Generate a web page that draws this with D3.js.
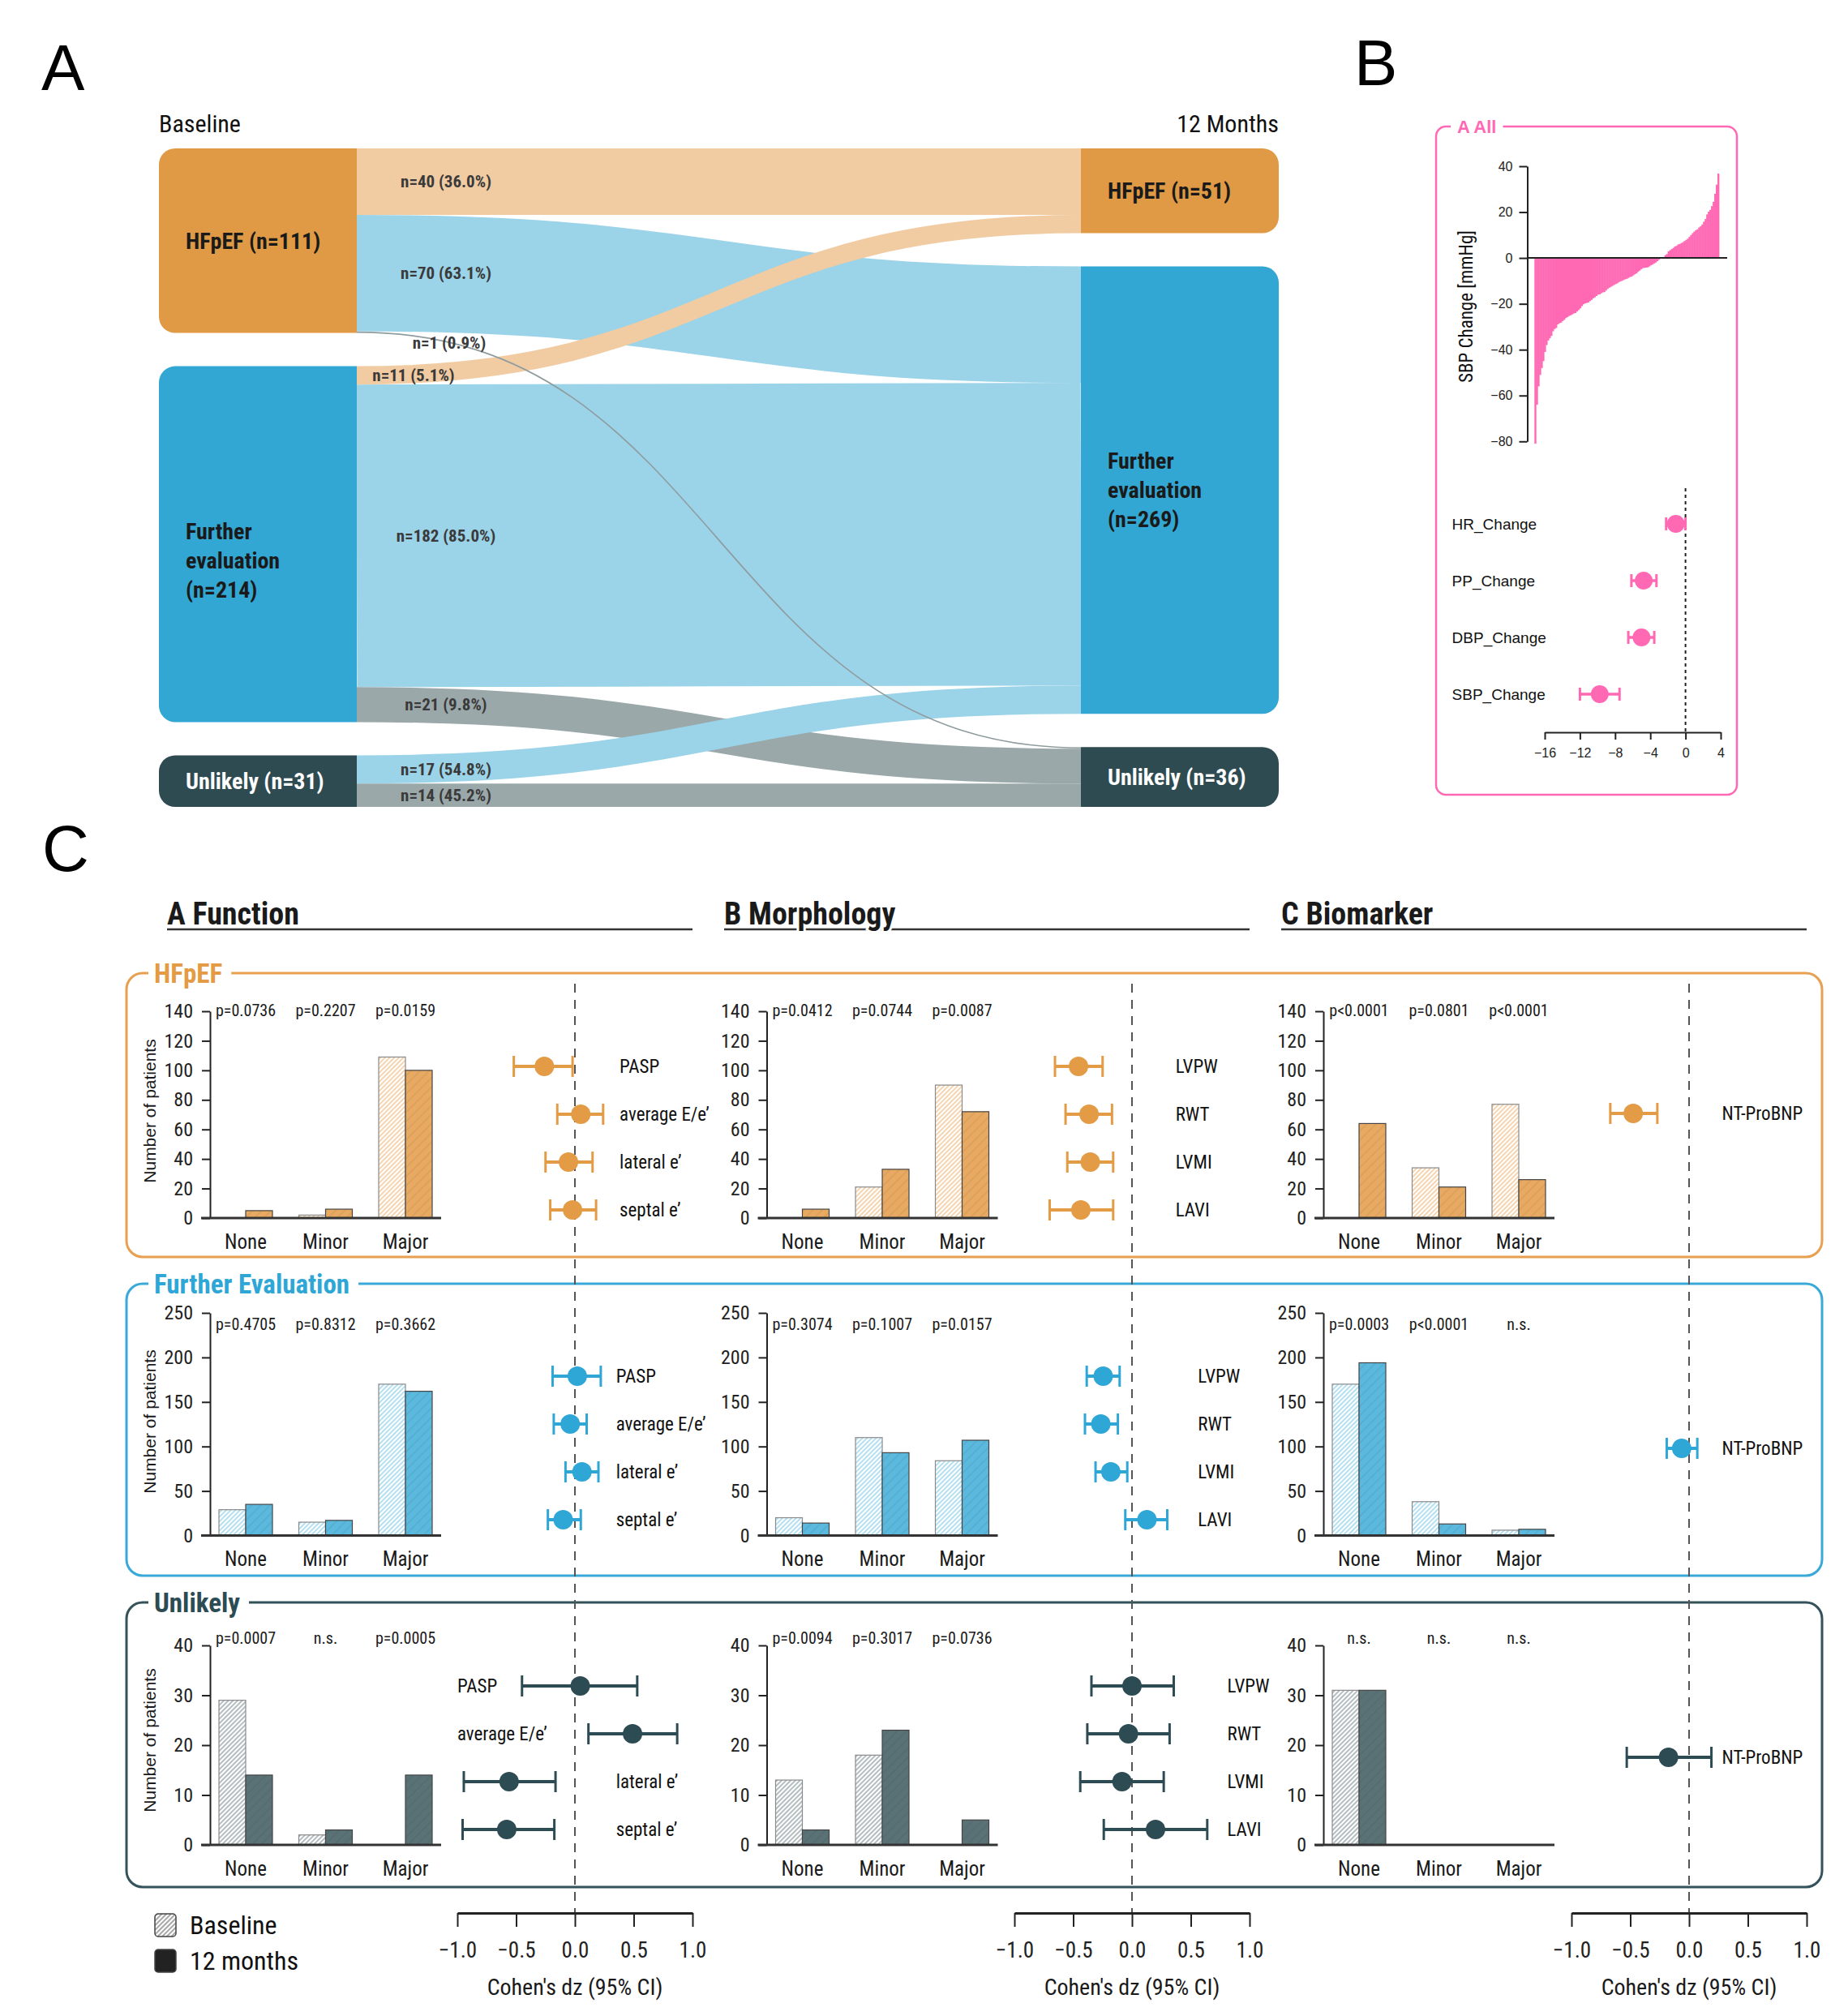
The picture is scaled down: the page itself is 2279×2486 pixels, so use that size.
<!DOCTYPE html>
<html>
<head>
<meta charset="utf-8">
<script src="https://cdn.jsdelivr.net/npm/d3@7"></script>
<style>
  body { margin: 0; background: #fff; }
  svg { display: block; }
</style>
</head>
<body>
<svg id="fig" width="2279" height="2486"></svg>
<script>
// ---------- data: panel A (sankey) ----------
const groups = ["HFpEF", "Further evaluation", "Unlikely"];
const baselineCounts = [111, 214, 31];
const monthCounts = [51, 269, 36];
const flowSource = [0, 0, 0, 1, 1, 1, 2, 2];
const flowTarget = [0, 1, 2, 0, 1, 2, 1, 2];
const flowValue = [40, 70, 1, 11, 182, 21, 17, 14];
const flowLabel = ["n=40 (36.0%)", "n=70 (63.1%)", "n=1 (0.9%)", "n=11 (5.1%)",
  "n=182 (85.0%)", "n=21 (9.8%)", "n=17 (54.8%)", "n=14 (45.2%)"];

// ---------- data: panel B ----------
const sbpChange = [-81, -64, -56, -51, -48, -45, -41, -38, -36, -35, -34, -32, -31, -30.5, -29, -28.5,
  -28.2, -27.5, -27, -26.2, -25.8, -25.3, -25, -24.6, -24.2, -24, -23.3, -22.7, -22, -21, -20.2, -19.8,
  -19.6, -19.4, -18.8, -18.3, -17.6, -17.2, -16.6, -16, -15.9, -15.4, -15, -14.9, -14.2, -13.5, -13,
  -12.6, -12.2, -11.8, -11.4, -11.1, -10.6, -10.2, -10, -9.6, -9.3, -9.1, -8.7, -8.3, -8.1, -7.6, -7.1,
  -6.7, -6, -5.5, -4.9, -4.4, -4.3, -4.2, -4.1, -3.7, -3.2, -2.9, -2.4, -2, -1.4, -0.8, 0, 0, 0, 1.2,
  1.7, 2.9, 3.4, 3.9, 4.4, 5, 5.3, 5.9, 6.1, 6.5, 6.9, 7.4, 7.9, 8.4, 9.2, 10, 10.8, 11.5, 12.1, 12.5,
  13.3, 13.8, 14.6, 15.8, 17, 19, 20.2, 21, 22.6, 24.5, 28, 32, 36.8];
const bpVars = ["HR_Change", "PP_Change", "DBP_Change", "SBP_Change"];
const bpEst = [-1.1, -4.75, -5.0, -9.75];
const bpLo = [-2.2, -6.15, -6.5, -12.0];
const bpHi = [0.0, -3.3, -3.55, -7.5];
const bpTicks = [-16, -12, -8, -4, 0, 4];
const sbpTicks = [-80, -60, -40, -20, 0, 20, 40];

// ---------- data: panel C ----------
const columnTitles = ["A Function", "B Morphology", "C Biomarker"];
const rowNames = ["HFpEF", "Further Evaluation", "Unlikely"];
const severity = ["None", "Minor", "Major"];
const timepoints = ["Baseline", "12 months"];
const params = [["PASP", "average E/e\u2019", "lateral e\u2019", "septal e\u2019"],
  ["LVPW", "RWT", "LVMI", "LAVI"], ["NT-ProBNP"]];
const yMax = [140, 250, 40];
const yStep = [20, 50, 10];
const dzTicks = [-1, -0.5, 0, 0.5, 1];

const hfpefBaseline = [[0, 2, 109], [0, 21, 90], [0, 34, 77]];
const hfpef12m = [[5, 6, 100], [6, 33, 72], [64, 21, 26]];
const hfpefP = [["p=0.0736", "p=0.2207", "p=0.0159"], ["p=0.0412", "p=0.0744", "p=0.0087"], ["p<0.0001", "p=0.0801", "p<0.0001"]];
const hfpefDz = [[-0.26, 0.05, -0.055, -0.02], [-0.455, -0.365, -0.355, -0.435], [-0.475]];
const hfpefLo = [[-0.52, -0.15, -0.25, -0.21], [-0.655, -0.565, -0.55, -0.70], [-0.67]];
const hfpefHi = [[-0.02, 0.24, 0.15, 0.18], [-0.25, -0.17, -0.16, -0.16], [-0.27]];

const furtherBaseline = [[29, 15, 170], [20, 110, 84], [170, 38, 6]];
const further12m = [[35, 17, 162], [14, 93, 107], [194, 13, 7]];
const furtherP = [["p=0.4705", "p=0.8312", "p=0.3662"], ["p=0.3074", "p=0.1007", "p=0.0157"], ["p=0.0003", "p<0.0001", "n.s."]];
const furtherDz = [[0.02, -0.04, 0.06, -0.10], [-0.245, -0.265, -0.18, 0.127], [-0.063]];
const furtherLo = [[-0.19, -0.18, -0.08, -0.23], [-0.385, -0.40, -0.31, -0.057], [-0.19]];
const furtherHi = [[0.22, 0.10, 0.20, 0.05], [-0.105, -0.12, -0.04, 0.30], [0.07]];

const unlikelyBaseline = [[29, 2, 0], [13, 18, 0], [31, 0, 0]];
const unlikely12m = [[14, 3, 14], [3, 23, 5], [31, 0, 0]];
const unlikelyP = [["p=0.0007", "n.s.", "p=0.0005"], ["p=0.0094", "p=0.3017", "p=0.0736"], ["n.s.", "n.s.", "n.s."]];
const unlikelyDz = [[0.045, 0.49, -0.56, -0.58], [0.0, -0.03, -0.085, 0.2], [-0.175]];
const unlikelyLo = [[-0.45, 0.115, -0.945, -0.955], [-0.345, -0.38, -0.44, -0.24], [-0.53]];
const unlikelyHi = [[0.53, 0.87, -0.165, -0.175], [0.355, 0.32, 0.27, 0.64], [0.19]];

// ---------- style / layout ----------
const NARROW = "'Liberation Sans Narrow', 'Arial Narrow', 'Roboto Condensed', 'DejaVu Sans Condensed', sans-serif";
const SANS = "'Liberation Sans', Arial, Helvetica, sans-serif";
const PINK = "#ff69b4";
const nodeColor = ["#e09a45", "#33a7d3", "#2f4b52"];
const nodeText = ["#1a1a1a", "#1a1a1a", "#ffffff"];
const linkColor = ["#f1cba2", "#9bd3e9", "#9aa8aa"];
const rowColor = ["#e39b45", "#2ea6d6", "#2d4b52"];
const boxColor = ["#e8a050", "#38a9d8", "#34525a"];
const bar12Color = ["#e8aa62", "#5bb9de", "#5a7276"];
const hatchColor = ["#f0bf86", "#8ccfe9", "#8b9a9d"];

const rowData = [
  { base: hfpefBaseline, m12: hfpef12m, p: hfpefP, dz: hfpefDz, lo: hfpefLo, hi: hfpefHi },
  { base: furtherBaseline, m12: further12m, p: furtherP, dz: furtherDz, lo: furtherLo, hi: furtherHi },
  { base: unlikelyBaseline, m12: unlikely12m, p: unlikelyP, dz: unlikelyDz, lo: unlikelyLo, hi: unlikelyHi }
];
// pixel layout of each row box
const rowBox = [
  { top: 1200, bottom: 1550, y0: 1502, yTop: 1247, pDy: 46, fDy: 115, ntDy: 173 },
  { top: 1583, bottom: 1943, y0: 1893.5, yTop: 1619, pDy: 50, fDy: 114, ntDy: 203 },
  { top: 1976, bottom: 2327, y0: 2275, yTop: 2029, pDy: 44, fDy: 103, ntDy: 191 }
];
// where the forest labels sit, in Cohen's dz units
const labelDz = [
  [[0.38, 0.38, 0.38, 0.38], [0.37, 0.37, 0.37, 0.37], [0.28]],
  [[0.35, 0.35, 0.35, 0.35], [0.56, 0.56, 0.56, 0.56], [0.28]],
  [[-1.0, -1.0, 0.35, 0.35], [0.81, 0.81, 0.81, 0.81], [0.28]]
];

const svg = d3.select("#fig").attr("font-family", NARROW);
const defs = svg.append("defs");

function hatch(id, bg, line, size, width) {
  const p = defs.append("pattern").attr("id", id)
    .attr("patternUnits", "userSpaceOnUse").attr("width", size).attr("height", size)
    .attr("patternTransform", "rotate(45)");
  p.append("rect").attr("width", size).attr("height", size).attr("fill", bg);
  p.append("line").attr("x1", size / 2).attr("x2", size / 2).attr("y1", 0).attr("y2", size)
    .attr("stroke", line).attr("stroke-width", width);
}
rowColor.forEach((c, i) => {
  hatch("hb" + i, "#fff", hatchColor[i], 4, 1.3);
  hatch("hm" + i, bar12Color[i], "rgba(0,0,0,0.07)", 8, 1.5);
});
hatch("hleg", "#fff", "#777", 4, 1.3);

// panel letters
[["A", 51, 111], ["B", 1670, 105], ["C", 52, 1074]].forEach(([t, x, y]) => {
  svg.append("text").attr("x", x).attr("y", y).attr("font-family", SANS)
    .attr("font-size", 80).attr("fill", "#000").text(t);
});

// ---------- panel A: sankey ----------
function drawSankey() {
  const g = svg.append("g");
  const top = 183, bottom = 995, gap = 41;
  const ky = (bottom - top - 2 * gap) / d3.sum(baselineCounts);
  const colL = [196, 440], colR = [1333, 1577];
  const stack = vals => { let y = top; return vals.map(v => { const n = { y0: y, y1: y + v * ky }; y = n.y1 + gap; return n; }); };
  const left = stack(baselineCounts), right = stack(monthCounts);

  const links = flowValue.map((v, i) => ({ v, s: flowSource[i], t: flowTarget[i], label: flowLabel[i], i }));
  const sOff = left.map(n => n.y0), tOff = right.map(n => n.y0);
  links.forEach(l => { l.sy0 = sOff[l.s]; sOff[l.s] += l.v * ky; l.sy1 = sOff[l.s]; });
  links.slice().sort((a, b) => a.t - b.t || a.s - b.s)
    .forEach(l => { l.ty0 = tOff[l.t]; tOff[l.t] += l.v * ky; l.ty1 = tOff[l.t]; });

  const link = d3.linkHorizontal();
  g.selectAll(".lk").data(links.slice().sort((a, b) => b.v - a.v)).enter().append("path")
    .attr("d", l => link({ source: [colL[1], (l.sy0 + l.sy1) / 2], target: [colR[0], (l.ty0 + l.ty1) / 2] }))
    .attr("fill", "none")
    .attr("stroke", l => l.v < 2 ? "#8f9c9e" : linkColor[l.t])
    .attr("stroke-width", l => l.v < 2 ? 1.6 : l.v * ky);

  function nodePath(x0, x1, y0, y1, side) {
    const r = Math.min(20, (y1 - y0) / 2);
    return side === "left"
      ? `M${x1},${y0}H${x0 + r}A${r},${r} 0 0 0 ${x0},${y0 + r}V${y1 - r}A${r},${r} 0 0 0 ${x0 + r},${y1}H${x1}Z`
      : `M${x0},${y0}H${x1 - r}A${r},${r} 0 0 1 ${x1},${y0 + r}V${y1 - r}A${r},${r} 0 0 1 ${x1 - r},${y1}H${x0}Z`;
  }
  const leftShift = [0, 20, 0];
  [[left, colL, "left", baselineCounts], [right, colR, "right", monthCounts]].forEach(([nodes, col, side, counts]) => {
    nodes.forEach((n, i) => {
      g.append("path").attr("d", nodePath(col[0], col[1], n.y0, n.y1, side)).attr("fill", nodeColor[i]);
      const words = groups[i].split(" ");
      const lines = words.length > 1 ? [...words, `(n=${counts[i]})`] : [`${groups[i]} (n=${counts[i]})`];
      const cy = (n.y0 + n.y1) / 2 + (side === "left" ? leftShift[i] : 0);
      lines.forEach((t, k) => {
        g.append("text").attr("x", col[0] + 33).attr("y", cy + (k - (lines.length - 1) / 2) * 36)
          .attr("dy", "0.35em").attr("font-size", 28).attr("font-weight", "bold")
          .attr("fill", nodeText[i]).text(t);
      });
    });
  });

  const nudge = { 2: [4, 13], 3: [-40, 0] };
  links.forEach(l => {
    const [dx, dy] = nudge[l.i] || [0, 0];
    g.append("text").attr("x", 550 + dx).attr("y", (l.sy0 + l.sy1) / 2 + dy).attr("dy", "0.35em")
      .attr("text-anchor", "middle").attr("font-size", 21).attr("font-weight", "bold")
      .attr("fill", "#3a3a3a").text(l.label);
  });

  g.append("text").attr("x", colL[0]).attr("y", 163).attr("font-size", 30).attr("fill", "#111").text("Baseline");
  g.append("text").attr("x", colR[1]).attr("y", 163).attr("text-anchor", "end").attr("font-size", 30)
    .attr("fill", "#111").text("12 Months");
}

// ---------- panel B ----------
function drawPanelB() {
  const g = svg.append("g");
  g.append("rect").attr("x", 1771).attr("y", 156).attr("width", 371).attr("height", 824).attr("rx", 12)
    .attr("fill", "none").attr("stroke", PINK).attr("stroke-width", 2.5);
  const title = g.append("text").attr("x", 1797).attr("y", 156).attr("dy", "0.36em").attr("font-family", SANS)
    .attr("font-size", 22).attr("font-weight", "bold").attr("fill", PINK).text("A All");
  const tw = title.node().getComputedTextLength();
  g.insert("rect", "text").attr("x", 1789).attr("y", 150).attr("width", tw + 16).attr("height", 12).attr("fill", "#fff");

  const y = d3.scaleLinear().domain([-80, 40]).range([544.3, 205]);
  const x = d3.scaleBand().domain(d3.range(sbpChange.length)).range([1892.3, 2120]);
  g.selectAll(".sbp").data(sbpChange).enter().append("rect")
    .attr("x", (d, i) => x(i)).attr("width", x.bandwidth() + 0.4)
    .attr("y", d => Math.min(y(d), y(0))).attr("height", d => Math.abs(y(d) - y(0)))
    .attr("fill", PINK);
  g.append("line").attr("x1", 1883.5).attr("x2", 2130).attr("y1", y(0)).attr("y2", y(0))
    .attr("stroke", "#222").attr("stroke-width", 2);
  const ya = g.append("g").attr("transform", "translate(1883.5,0)")
    .call(d3.axisLeft(y).tickValues(sbpTicks).tickSize(10).tickSizeOuter(0).tickPadding(8));
  ya.attr("font-family", SANS).attr("font-size", 16).attr("color", "#222");
  ya.selectAll("line,path").attr("stroke-width", 2);
  g.append("text").attr("transform", "translate(1808,378) rotate(-90)").attr("text-anchor", "middle")
    .attr("dy", "0.35em").attr("font-size", 23).attr("fill", "#111").text("SBP Change [mmHg]");

  const xf = d3.scaleLinear().domain([-16, 4]).range([1905, 2122]);
  const rowsY = [646, 716, 786, 856];
  g.append("line").attr("x1", xf(0)).attr("x2", xf(0)).attr("y1", 602).attr("y2", 903)
    .attr("stroke", "#222").attr("stroke-width", 2).attr("stroke-dasharray", "4,4");
  const xa = g.append("g").attr("transform", "translate(0,903)")
    .call(d3.axisBottom(xf).tickValues(bpTicks).tickSize(9).tickSizeOuter(0).tickPadding(11));
  xa.attr("font-family", SANS).attr("font-size", 16).attr("color", "#222");
  xa.selectAll("line,path").attr("stroke-width", 2);
  bpVars.forEach((v, i) => {
    const yy = rowsY[i];
    g.append("text").attr("x", 1790.6).attr("y", yy).attr("dy", "0.35em").attr("font-family", SANS)
      .attr("font-size", 19).attr("fill", "#111").text(v);
    g.append("line").attr("x1", xf(bpLo[i])).attr("x2", xf(bpHi[i])).attr("y1", yy).attr("y2", yy)
      .attr("stroke", PINK).attr("stroke-width", 3.5);
    [bpLo[i], bpHi[i]].forEach(e => g.append("line").attr("x1", xf(e)).attr("x2", xf(e))
      .attr("y1", yy - 8).attr("y2", yy + 8).attr("stroke", PINK).attr("stroke-width", 3));
    g.append("circle").attr("cx", xf(bpEst[i])).attr("cy", yy).attr("r", 11).attr("fill", PINK);
  });
}

// ---------- panel C ----------
const colX0 = [206, 893, 1580];
const barAxisX = c => 259 + 686.5 * c;
const zeroX = c => 709 + 687 * c;
const DZ = 145;

function drawPanelC() {
  const g = svg.append("g");
  columnTitles.forEach((t, c) => {
    g.append("line").attr("x1", colX0[c]).attr("x2", colX0[c] + 648).attr("y1", 1146).attr("y2", 1146)
      .attr("stroke", "#333").attr("stroke-width", 2.5);
    g.append("text").attr("x", colX0[c]).attr("y", 1140).attr("font-size", 38).attr("font-weight", "bold")
      .attr("fill", "#1a1a1a").attr("stroke", "#fff").attr("stroke-width", 6).attr("paint-order", "stroke")
      .text(t);
  });

  // row boxes
  rowBox.forEach((b, r) => {
    g.append("rect").attr("x", 156).attr("y", b.top).attr("width", 2091).attr("height", b.bottom - b.top)
      .attr("rx", 20).attr("fill", "none").attr("stroke", boxColor[r]).attr("stroke-width", 3);
    const gap = g.append("rect").attr("x", 183).attr("y", b.top - 6).attr("height", 12).attr("fill", "#fff");
    const t = g.append("text").attr("x", 190).attr("y", b.top).attr("dy", "0.36em").attr("font-size", 33)
      .attr("font-weight", "bold").attr("fill", rowColor[r]).text(rowNames[r]);
    gap.attr("width", t.node().getComputedTextLength() + 18);
  });

  // dashed zero lines through all rows
  [0, 1, 2].forEach(c => {
    g.append("line").attr("x1", zeroX(c)).attr("x2", zeroX(c)).attr("y1", 1213).attr("y2", 2359)
      .attr("stroke", "#555").attr("stroke-width", 2).attr("stroke-dasharray", "11,9");
  });

  rowBox.forEach((b, r) => {
    const d = rowData[r];
    const y = d3.scaleLinear().domain([0, yMax[r]]).range([b.y0, b.yTop]);
    g.append("text").attr("transform", `translate(185,${b.top + 170}) rotate(-90)`).attr("text-anchor", "middle")
      .attr("dy", "0.35em").attr("font-family", SANS).attr("font-size", 21).attr("fill", "#1a1a1a")
      .text("Number of patients");

    [0, 1, 2].forEach(c => {
      const ax = barAxisX(c);
      const xb = d3.scaleBand().domain(severity).range([ax - 5.25, ax + 290.25]).paddingInner(0.33).paddingOuter(0.165);
      const xs = d3.scaleBand().domain(timepoints).range([0, xb.bandwidth()]);
      const bars = [];
      severity.forEach((s, k) => {
        bars.push({ s, t: timepoints[0], v: d.base[c][k] });
        bars.push({ s, t: timepoints[1], v: d.m12[c][k] });
      });
      g.selectAll(null).data(bars.filter(e => e.v > 0)).enter().append("rect")
        .attr("x", e => xb(e.s) + xs(e.t)).attr("width", xs.bandwidth())
        .attr("y", e => y(e.v)).attr("height", e => y(0) - y(e.v))
        .attr("fill", e => e.t === timepoints[0] ? `url(#hb${r})` : `url(#hm${r})`)
        .attr("stroke", e => e.t === timepoints[0] ? "#8a8a8a" : "#454545")
        .attr("stroke-width", 1.2);

      const ya = g.append("g").attr("transform", `translate(${ax},0)`)
        .call(d3.axisLeft(y).tickValues(d3.range(0, yMax[r] + 1, yStep[r])).tickSize(10).tickSizeOuter(0).tickPadding(11));
      ya.attr("font-family", NARROW).attr("font-size", 24).attr("color", "#222");
      ya.selectAll("line,path").attr("stroke-width", 2);
      g.append("line").attr("x1", ax - 11).attr("x2", ax + 285).attr("y1", b.y0).attr("y2", b.y0)
        .attr("stroke", "#333").attr("stroke-width", 3);

      severity.forEach((s, k) => {
        const cx = xb(s) + xb.bandwidth() / 2;
        g.append("text").attr("x", cx).attr("y", b.y0 + 29).attr("dy", "0.35em").attr("text-anchor", "middle")
          .attr("font-size", 25).attr("fill", "#1a1a1a").text(s);
        g.append("text").attr("x", cx).attr("y", b.top + b.pDy).attr("dy", "0.35em").attr("text-anchor", "middle")
          .attr("font-size", 20).attr("fill", "#1a1a1a").text(d.p[c][k]);
      });

      // forest
      const xf = d3.scaleLinear().domain([-1, 1]).range([zeroX(c) - DZ, zeroX(c) + DZ]);
      params[c].forEach((pname, k) => {
        const yy = c === 2 ? b.top + b.ntDy : b.top + b.fDy + k * 59;
        const col = rowColor[r];
        g.append("line").attr("x1", xf(d.lo[c][k])).attr("x2", xf(d.hi[c][k])).attr("y1", yy).attr("y2", yy)
          .attr("stroke", col).attr("stroke-width", 4);
        [d.lo[c][k], d.hi[c][k]].forEach(e => g.append("line").attr("x1", xf(e)).attr("x2", xf(e))
          .attr("y1", yy - 13).attr("y2", yy + 13).attr("stroke", col).attr("stroke-width", 3));
        g.append("circle").attr("cx", xf(d.dz[c][k])).attr("cy", yy).attr("r", 12).attr("fill", col);
        g.append("text").attr("x", xf(labelDz[r][c][k])).attr("y", yy).attr("dy", "0.35em")
          .attr("font-size", 23).attr("fill", "#111").text(pname);
      });
    });
  });

  // bottom axes
  [0, 1, 2].forEach(c => {
    const xf = d3.scaleLinear().domain([-1, 1]).range([zeroX(c) - DZ, zeroX(c) + DZ]);
    const xa = g.append("g").attr("transform", "translate(0,2359)")
      .call(d3.axisBottom(xf).tickValues(dzTicks).tickFormat(d3.format(".1f")).tickSize(17).tickSizeOuter(0).tickPadding(19));
    xa.attr("font-family", NARROW).attr("font-size", 27).attr("color", "#222");
    xa.select("path").attr("stroke-width", 3);
    xa.selectAll("line").attr("stroke-width", 2);
    g.append("text").attr("x", zeroX(c)).attr("y", 2450).attr("dy", "0.35em").attr("text-anchor", "middle")
      .attr("font-size", 28).attr("fill", "#1a1a1a").text("Cohen's dz (95% CI)");
  });

  // legend
  [[`url(#hleg)`, 2360, timepoints[0]], ["#222", 2404, timepoints[1]]].forEach(([fill, yy, t]) => {
    g.append("rect").attr("x", 191).attr("y", yy).attr("width", 26).attr("height", 28).attr("rx", 4)
      .attr("fill", fill).attr("stroke", "#444").attr("stroke-width", 1.5);
    g.append("text").attr("x", 234).attr("y", yy + 14).attr("dy", "0.35em").attr("font-size", 32)
      .attr("fill", "#111").text(t);
  });
}

drawSankey();
drawPanelB();
drawPanelC();
</script>
</body>
</html>
